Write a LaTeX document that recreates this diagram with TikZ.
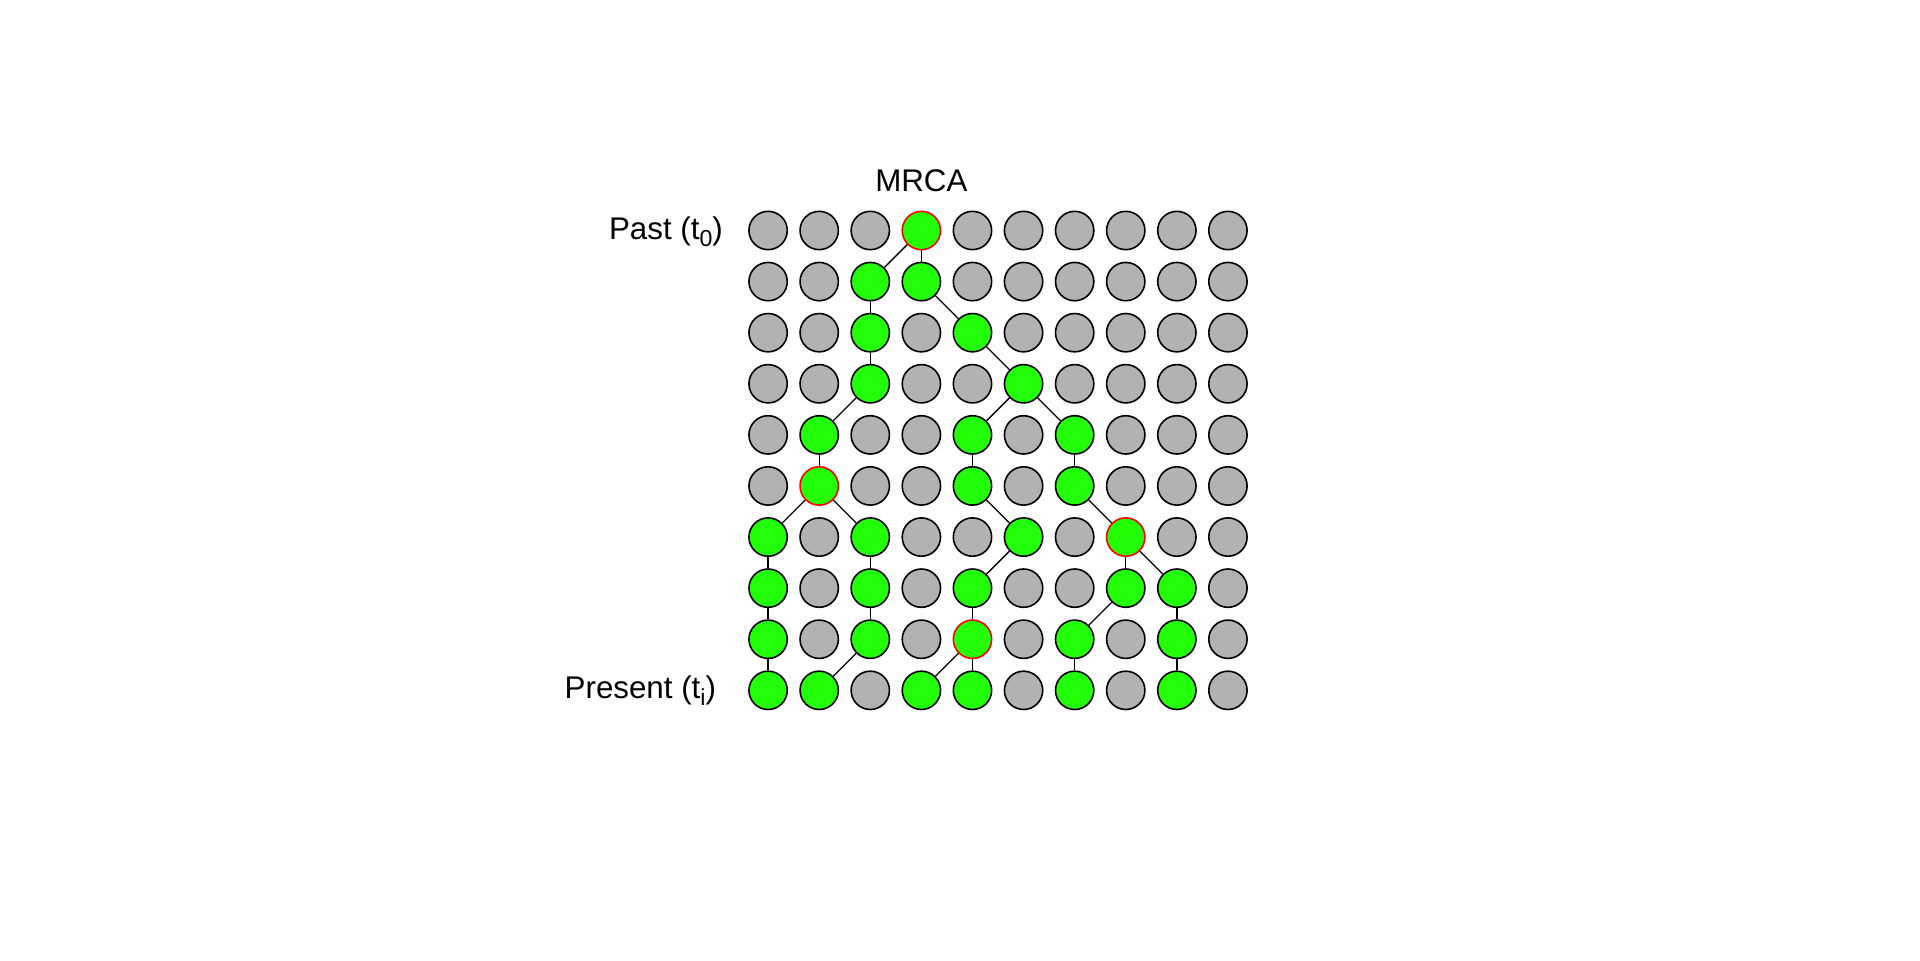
\documentclass[tikz,border=0pt]{standalone}
\usepackage{fontspec}
\setmainfont{Liberation Sans}

\definecolor{cellgray}{RGB}{178,178,178}
\definecolor{cellgreen}{RGB}{34,255,8}
\newcommand{\lowidx}[1]{\raisebox{-0.23em}{\fontsize{11.6}{14}\selectfont #1}}

\tikzset{
  cell/.style={circle, draw=black, line width=0.8pt, fill=cellgray, minimum size=0.675cm, inner sep=0pt},
  cellg/.style={cell},
  celll/.style={cell, fill=cellgreen},
  cellm/.style={cell, fill=cellgreen, draw=red},
  link/.style={line width=0.65pt},
}

\begin{document}
\begin{tikzpicture}[font=\fontsize{15.7}{19}\selectfont]
\useasboundingbox (-13.53,-12.85) rectangle (20.29,4.06);

% one row per generation, g = gray, l = lineage, m = merger
\foreach \row [count=\y from 0] in {
  {g,g,g,m,g,g,g,g,g,g},
  {g,g,l,l,g,g,g,g,g,g},
  {g,g,l,g,l,g,g,g,g,g},
  {g,g,l,g,g,l,g,g,g,g},
  {g,l,g,g,l,g,l,g,g,g},
  {g,m,g,g,l,g,l,g,g,g},
  {l,g,l,g,g,l,g,m,g,g},
  {l,g,l,g,l,g,g,l,l,g},
  {l,g,l,g,m,g,l,g,l,g},
  {l,l,g,l,l,g,l,g,l,g}}
  \foreach \kind [count=\x from 0] in \row
    \node[cell\kind] (n\y-\x) at (0.9*\x,-0.9*\y) {};

% lines of descent
\foreach \a/\b in {0-3/1-2, 0-3/1-3, 1-2/2-2, 1-3/2-4, 2-2/3-2, 2-4/3-5,
  3-2/4-1, 3-5/4-4, 3-5/4-6, 4-1/5-1, 4-4/5-4, 4-6/5-6,
  5-1/6-0, 5-1/6-2, 5-4/6-5, 5-6/6-7, 6-0/7-0, 6-2/7-2, 6-5/7-4, 6-7/7-7, 6-7/7-8,
  7-0/8-0, 7-2/8-2, 7-4/8-4, 7-7/8-6, 7-8/8-8,
  8-0/9-0, 8-2/9-1, 8-4/9-3, 8-4/9-4, 8-6/9-6, 8-8/9-8}
  \draw[link] (n\a) -- (n\b);

\node (mrca) at (2.7,0.875) {MRCA};
\node[left, inner sep=0pt] (past) at (-0.79,-0.02) {Past (t\lowidx{0})};
\node[left, inner sep=0pt] (present) at (-0.91,-8.11) {Present (t\lowidx{i})};
\end{tikzpicture}
\end{document}
